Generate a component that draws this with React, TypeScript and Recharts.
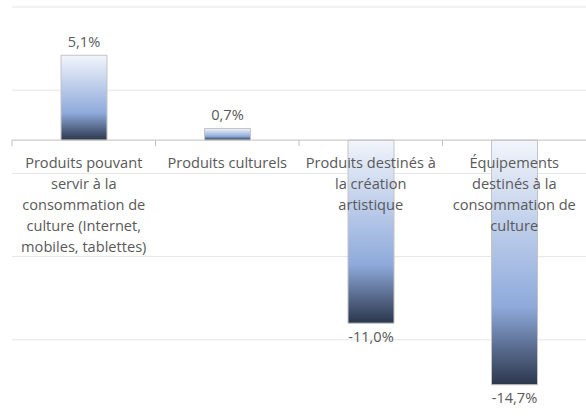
import { BarChart, Bar, XAxis, YAxis, CartesianGrid, ReferenceLine, LabelList } from 'recharts'

const categories = [
  'Produits pouvant\nservir à la\nconsommation de\nculture (Internet,\nmobiles, tablettes)',
  'Produits culturels',
  'Produits destinés à\nla création\nartistique',
  'Équipements\ndestinés à la\nconsommation de\nculture',
]
const values = [5.1, 0.7, -11.0, -14.7]
const yTicks = [8, 3, -2, -7, -12]

const data = categories.map((c, i) => ({ name: c, value: values[i] }))

const fmt = (v: number) => v.toFixed(1).replace('.', ',') + '%'
const FONT = '"Open Sans", sans-serif'

// category labels + boundary ticks hung on the zero line
function ZeroAxisLabels(props: any) {
  const vb = props.viewBox
  if (!vb) return null
  const band = vb.width / categories.length
  return (
    <g>
      {categories.map((c, i) => {
        const cx = vb.x + band * (i + 0.5)
        const lines = c.split('\n')
        return (
          <g key={i}>
            <line x1={vb.x + band * i} x2={vb.x + band * i} y1={vb.y} y2={vb.y + 6} stroke="#bfbfbf" />
            <text x={cx} y={vb.y + 28} textAnchor="middle" fill="#595959" fontSize={14.6} fontFamily={FONT}>
              {lines.map((l, j) => (
                <tspan key={j} x={cx} dy={j === 0 ? 0 : 21}>{l}</tspan>
              ))}
            </text>
          </g>
        )
      })}
    </g>
  )
}

export default function App() {
  return (
    <div style={{ position: 'absolute', left: 0, top: 0, width: 586, height: 419, overflow: 'hidden' }}>
      <BarChart width={586} height={423} data={data} margin={{ top: 7, right: 0, bottom: 0, left: 12 }}>
        <defs>
          <linearGradient id="barGrad" x1="0" y1="0" x2="0" y2="1">
            <stop offset="0" stopColor="#f2f5fb" />
            <stop offset="0.68" stopColor="#8eaadb" />
            <stop offset="1" stopColor="#2b364c" />
          </linearGradient>
        </defs>
        <CartesianGrid vertical={false} stroke="#e6e6e6" />
        <XAxis dataKey="name" hide />
        <YAxis hide domain={[-17, 8]} ticks={yTicks} allowDataOverflow />
        <Bar dataKey="value" fill="url(#barGrad)" stroke="#c4c4c4" strokeWidth={1} barSize={46} isAnimationActive={false}>
          <LabelList dataKey="value" position="top" offset={8} formatter={(v: any) => fmt(Number(v))} fill="#595959" fontSize={14.6} fontFamily={FONT} />
        </Bar>
        <ReferenceLine y={0} stroke="#bfbfbf" label={<ZeroAxisLabels />} />
      </BarChart>
    </div>
  )
}
